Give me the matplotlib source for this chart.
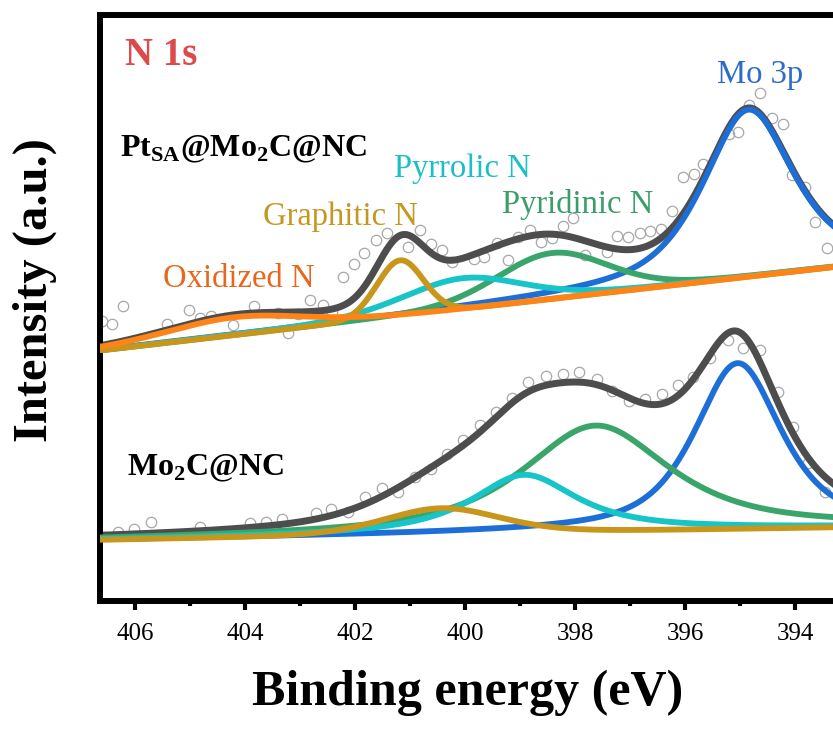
import numpy as np
import matplotlib
matplotlib.use('Agg')
import matplotlib.pyplot as plt

plt.rcParams['font.family'] = ['Liberation Serif', 'DejaVu Serif']
plt.rcParams['mathtext.fontset'] = 'custom'
plt.rcParams['mathtext.rm'] = 'Liberation Serif'
plt.rcParams['mathtext.bf'] = 'Liberation Serif:bold'

# raw data points (binding energy eV, intensity a.u.)
top_be = [406.60, 406.42, 406.22, 405.42, 405.02, 404.82, 404.62, 404.22, 403.84, 403.40,
          403.22, 403.04, 402.82, 402.58, 402.42, 402.22, 402.02, 401.84, 401.62, 401.42,
          401.04, 400.82, 400.62, 400.42, 400.24, 399.84, 399.65, 399.42, 399.22, 399.04,
          398.82, 398.62, 398.42, 398.22, 398.04, 397.82, 397.42, 397.24, 397.04, 396.82,
          396.64, 396.44, 396.24, 396.04, 395.84, 395.67, 395.20, 395.04, 394.84, 394.64,
          394.42, 394.22, 394.05, 393.82, 393.64, 393.42]
top_int = [280, 277, 295, 277, 291, 283, 285, 276, 295, 288,
           268, 287, 301, 296, 289, 324, 337, 348, 361, 368,
           354, 371, 357, 351, 339, 342, 344, 358, 341, 364,
           371, 359, 363, 375, 383, 346, 349, 365, 364, 368,
           370, 372, 390, 424, 427, 437, 467, 469, 496, 508,
           483, 477, 426, 414, 379, 353]

bot_be = [406.31, 406.02, 405.71, 404.82, 403.91, 403.62, 403.33, 402.71, 402.44, 402.13,
          401.82, 401.51, 401.22, 400.91, 400.62, 400.33, 400.04, 399.73, 399.44, 399.15,
          398.85, 398.53, 398.22, 397.93, 397.60, 397.33, 397.02, 396.73, 396.42, 396.13,
          395.85, 395.55, 395.22, 394.95, 394.64, 394.31, 394.04, 393.76, 393.45]
bot_int = [69, 72, 79, 74, 78, 79, 82, 88, 92, 89,
           104, 113, 109, 124, 132, 147, 161, 176, 189, 203,
           219, 225, 227, 229, 222, 210, 200, 202, 207, 216,
           224, 243, 261, 253, 251, 209, 174, 138, 109]

# fitted components: Mo 3p, pyridinic N, pyrrolic N, graphitic N, oxidized N
top_center = [394.85, 398.42, 400.05, 401.18, 404.20]
top_height = [167, 46, 31, 56, 18]
top_fwhm = [1.95, 2.4, 2.6, 1.0, 3.0]
top_eta = [0.65, 0.2, 0.3, 0.05, 0.3]
top_bg = [251, 334]  # background at 406.55 and 393.31 eV

bot_center = [395.04, 397.62, 398.92, 400.42]
bot_height = [166, 106, 58, 26]
bot_fwhm = [1.88, 3.2, 2.3, 2.5]
bot_eta = [0.7, 0.8, 0.9, 0.3]
bot_bg = [61, 73.5]
bg_be = [406.55, 393.31]

colors = ['#1E6ED8', '#3AA56A', '#17C4C8', '#C8961A', '#FF8418']
env_color = '#4D4D4D'


def pvoigt(x, c, h, w, eta):
    g = np.exp(-4 * np.log(2) * ((x - c) / w) ** 2)
    l = 1 / (1 + 4 * ((x - c) / w) ** 2)
    return h * (eta * l + (1 - eta) * g)


fig = plt.figure(figsize=(8.33, 7.29), dpi=100)
ax = fig.add_axes([0.12, 0.1756, 0.88, 0.8038])

x = np.linspace(406.7, 393.2, 800)


def draw_set(centers, heights, fwhms, etas, bg, points_be, points_int):
    base = np.interp(x, bg_be[::-1], bg[::-1])
    ax.plot(points_be, points_int, 'o', mfc='none', mec='#A8A8A8', ms=7.5, mew=0.9, zorder=1)
    comps = [pvoigt(x, c, h, w, e) for c, h, w, e in zip(centers, heights, fwhms, etas)]
    env = base + np.sum(comps, axis=0)
    ax.plot(x, env, color=env_color, lw=5, zorder=2)
    for i, comp in enumerate(comps):
        ax.plot(x, base + comp, color=colors[i], lw=4.2, zorder=3 + i)


draw_set(top_center, top_height, top_fwhm, top_eta, top_bg, top_be, top_int)
draw_set(bot_center, bot_height, bot_fwhm, bot_eta, bot_bg, bot_be, bot_int)

ax.set_xlim(406.636, 393.31)
ax.set_ylim(0, 586)
ax.set_yticks([])
ax.set_xticks(np.arange(406, 393, -2))
ax.set_xticks(np.arange(405, 393, -2), minor=True)
ax.tick_params(axis='x', which='major', direction='out', length=6.5, width=3, labelsize=18, pad=9)
ax.tick_params(axis='x', which='minor', direction='out', length=3.5, width=3)
for s in ['left', 'top', 'bottom']:
    ax.spines[s].set_linewidth(4.3)
ax.spines['right'].set_visible(False)

ax.set_xlabel('Binding energy (eV)', fontsize=36, fontweight='bold')
ax.xaxis.set_label_coords(0.502, -0.118)
ax.set_ylabel('Intensity (a.u.)', fontsize=35, fontweight='bold')
ax.yaxis.set_label_coords(-0.058, 0.53)

ax.text(406.18, 536, 'N 1s', color='#DC4A4A', fontsize=28, fontweight='bold')
ax.text(406.27, 445, r'Pt$_{\mathbf{SA}}$@Mo$_{\mathbf{2}}$C@NC', fontsize=23, fontweight='bold')
ax.text(406.15, 126, r'Mo$_{\mathbf{2}}$C@NC', fontsize=23, fontweight='bold')

ax.text(394.64, 518, 'Mo 3p', color='#2C6BC8', fontsize=23.5, ha='center')
ax.text(400.05, 424, 'Pyrrolic N', color='#1BBFC5', fontsize=23.5, ha='center')
ax.text(397.95, 388, 'Pyridinic N', color='#3A9E6A', fontsize=23.5, ha='center')
ax.text(402.27, 376, 'Graphitic N', color='#C4981E', fontsize=23.5, ha='center')
ax.text(404.11, 314, 'Oxidized N', color='#E8671E', fontsize=23.5, ha='center')

fig.savefig('out.png', dpi=100)
